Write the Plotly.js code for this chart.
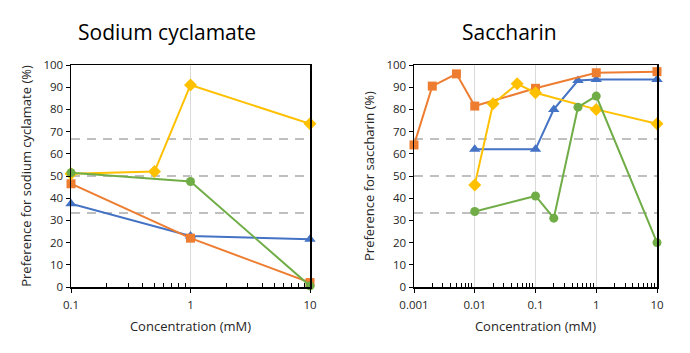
<!DOCTYPE html>
<html>
<head>
<meta charset="utf-8">
<script src="https://cdn.plot.ly/plotly-3.0.1.min.js"></script>
<style>html,body{margin:0;padding:0;background:#fff;}#chart{width:690px;height:353px;}</style>
</head>
<body>
<div id="chart"></div>
<script>
// ---- Data: Sodium cyclamate (left) ----
const cycOrangeX = [0.1, 1, 10];
const cycOrangeY = [46.5, 22, 2];
const cycBlueX = [0.1, 1, 10];
const cycBlueY = [37.5, 23, 21.5];
const cycGreenX = [0.1, 1, 10];
const cycGreenY = [51.5, 47.5, 0.5];
const cycYellowX = [0.1, 0.5, 1, 10];
const cycYellowY = [51, 52, 91, 73.5];

// ---- Data: Saccharin (right) ----
const sacOrangeX = [0.001, 0.002, 0.005, 0.01, 0.1, 1, 10];
const sacOrangeY = [64, 90.5, 96, 81.5, 89.5, 96.5, 97];
const sacBlueX = [0.01, 0.1, 0.2, 0.5, 1, 10];
const sacBlueY = [62, 62, 80, 93, 93.5, 93.5];
const sacGreenX = [0.01, 0.1, 0.2, 0.5, 1, 10];
const sacGreenY = [34, 41, 31, 81, 86, 20];
const sacYellowX = [0.01, 0.02, 0.05, 0.1, 1, 10];
const sacYellowY = [46, 82.5, 91.5, 87.5, 80, 73.5];

// chance levels (dashed reference lines)
const chanceLevels = [33.33, 50, 66.67];

const chartTitles = ["Sodium cyclamate", "Saccharin"];
const yTitles = ["Preference for sodium cyclamate (%)", "Preference for saccharin (%)"];
const xTitle = "Concentration (mM)";
const leftTickVals = [0.1, 1, 10];
const leftTickText = ["0.1", "1", "10"];
const rightTickVals = [0.001, 0.01, 0.1, 1, 10];
const rightTickText = ["0.001", "0.01", "0.1", "1", "10"];

const C = {orange:'#ED7D31', blue:'#4472C4', green:'#70AD47', yellow:'#FFC000'};
const FONT = 'Open Sans, Liberation Sans, sans-serif';

function tr(x, y, color, symbol, size, xa, ya) {
  return {x: x, y: y, type: 'scatter', mode: 'lines+markers', xaxis: xa, yaxis: ya,
    cliponaxis: false,
    line: {color: color, width: 2}, marker: {color: color, symbol: symbol, size: size},
    hoverinfo: 'x+y', showlegend: false};
}

const data = [
  tr(cycBlueX, cycBlueY, C.blue, 'triangle-up', 10, 'x', 'y'),
  tr(cycOrangeX, cycOrangeY, C.orange, 'square', 9, 'x', 'y'),
  tr(cycYellowX, cycYellowY, C.yellow, 'diamond', 10, 'x', 'y'),
  tr(cycGreenX, cycGreenY, C.green, 'circle', 9, 'x', 'y'),
  tr(sacBlueX, sacBlueY, C.blue, 'triangle-up', 10, 'x2', 'y2'),
  tr(sacOrangeX, sacOrangeY, C.orange, 'square', 9, 'x2', 'y2'),
  tr(sacYellowX, sacYellowY, C.yellow, 'diamond', 10, 'x2', 'y2'),
  tr(sacGreenX, sacGreenY, C.green, 'circle', 9, 'x2', 'y2')
];

// minor tick positions (2..9 within each decade between the first and last major tick)
function minorVals(tv) {
  const out = [];
  for (let i = 0; i < tv.length - 1; i++) {
    for (let m = 2; m <= 9; m++) out.push(m * tv[i]);
  }
  return out;
}

function xaxis(domain, tv, tt, anchor) {
  return {domain: domain, type: 'log',
    range: [Math.log10(tv[0]), Math.log10(tv[tv.length - 1])], anchor: anchor,
    tickmode: 'array', tickvals: tv, ticktext: tt,
    ticks: 'outside', ticklen: 4, tickcolor: '#000', ticklabelstandoff: 3,
    showline: true, mirror: true, linecolor: '#000', linewidth: 1.5,
    showgrid: true, gridcolor: '#d9d9d9', gridwidth: 1, zeroline: false,
    tickfont: {family: FONT, size: 11.5, color: '#262626'},
    minor: {tickmode: 'array', tickvals: minorVals(tv), ticks: 'inside', ticklen: 4,
            tickcolor: '#000', tickwidth: 1, showgrid: false},
    title: {text: xTitle, font: {family: FONT, size: 13, color: '#262626'}, standoff: 10}};
}
function yaxis(domain, anchor, title) {
  return {domain: domain, range: [0, 100], dtick: 10, anchor: anchor,
    ticks: 'outside', ticklen: 4, tickcolor: '#000',
    showline: true, mirror: true, linecolor: '#000', linewidth: 1.5,
    showgrid: false, zeroline: false,
    tickfont: {family: FONT, size: 11.5, color: '#262626'},
    title: {text: title, font: {family: FONT, size: 13, color: '#262626'}, standoff: 9}};
}

const yDom = [66/353, 288/353];
const shapes = [];
chanceLevels.forEach(v => {
  shapes.push({type: 'line', xref: 'x domain', yref: 'y', x0: 0, x1: 1, y0: v, y1: v,
    line: {color: '#bfbfbf', width: 2, dash: '9px,7px'}, layer: 'below'});
  shapes.push({type: 'line', xref: 'x2 domain', yref: 'y2', x0: 0, x1: 1, y0: v, y1: v,
    line: {color: '#bfbfbf', width: 2, dash: '9px,7px'}, layer: 'below'});
});

const layout = {
  width: 690, height: 353,
  margin: {l: 0, r: 0, t: 0, b: 0},
  paper_bgcolor: '#fff', plot_bgcolor: '#fff',
  showlegend: false,
  xaxis: xaxis([71/690, 310/690], leftTickVals, leftTickText, 'y'),
  yaxis: yaxis(yDom, 'x', yTitles[0]),
  xaxis2: xaxis([414/690, 657/690], rightTickVals, rightTickText, 'y2'),
  yaxis2: yaxis(yDom, 'x2', yTitles[1]),
  shapes: shapes,
  annotations: [
    {text: chartTitles[0], xref: 'paper', yref: 'paper', x: 167/690, y: 1 - 32/353,
     xanchor: 'center', yanchor: 'middle', showarrow: false,
     font: {family: FONT, size: 21, color: '#000'}},
    {text: chartTitles[1], xref: 'paper', yref: 'paper', x: 510/690, y: 1 - 32/353,
     xanchor: 'center', yanchor: 'middle', showarrow: false,
     font: {family: FONT, size: 21, color: '#000'}}
  ]
};

Plotly.newPlot('chart', data, layout, {staticPlot: true, displayModeBar: false});
</script>
</body>
</html>
